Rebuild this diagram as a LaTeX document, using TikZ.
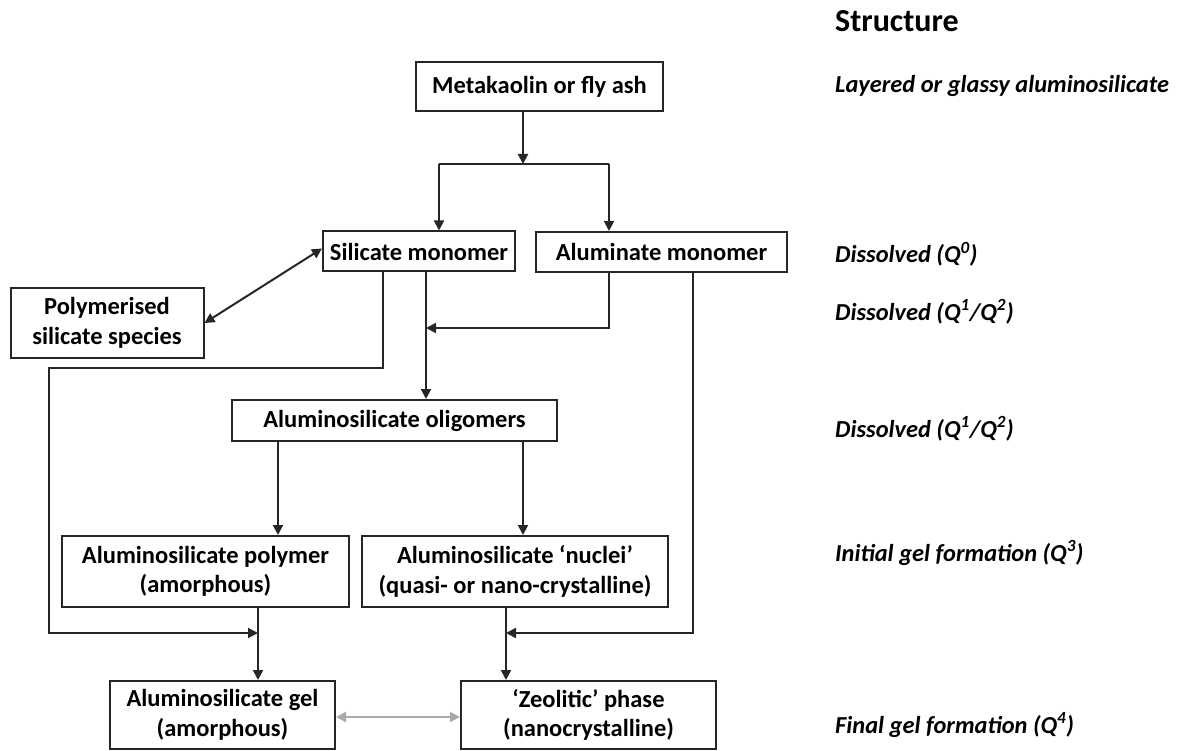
\documentclass[tikz,border=0pt]{standalone}
\usepackage{fontspec}
\setmainfont{Carlito}
\usetikzlibrary{arrows.meta}
\definecolor{ln}{HTML}{262626}
\definecolor{gl}{HTML}{AAAAAA}
\begin{document}
\begin{tikzpicture}[x=1pt,y=-1pt,
  box/.style={draw=ln,line width=2pt,rectangle,inner sep=0pt,align=center,
    font=\fontsize{24.5}{29.5}\selectfont\bfseries,text=black},
  arr/.style={draw=ln,line width=2pt,-{Triangle[length=10pt,width=10pt]}},
  ln/.style={draw=ln,line width=2pt},
  lab/.style={anchor=base west,inner sep=0pt,font=\fontsize{24.4}{28}\selectfont\bfseries\itshape,text=black}]
\useasboundingbox (0,0) rectangle (1183,751);
% boxes
\node[box,minimum width=247pt,minimum height=49pt] (meta) at (539.5,86.5) {Metakaolin or fly ash};
\node[box,minimum width=192pt,minimum height=40pt] (sil) at (419,251.5) {Silicate monomer};
\node[box,minimum width=251pt,minimum height=40pt] (alu) at (661.5,252) {Aluminate monomer};
\node[box,minimum width=193pt,minimum height=70pt] (poly) at (107,323) {Polymerised\\silicate species};
\node[box,minimum width=325pt,minimum height=41pt] (olig) at (394.5,420.5) {Aluminosilicate oligomers};
\node[box,minimum width=287pt,minimum height=71pt] (apoly) at (205.5,571.5) {Aluminosilicate polymer\\(amorphous)};
\node[box,minimum width=306pt,minimum height=71pt] (nuc) at (515,571.5) {Aluminosilicate ‘nuclei’\\(quasi- or nano-crystalline)};
\node[box,minimum width=225pt,minimum height=68pt] (gel) at (222.5,715) {Aluminosilicate gel\\(amorphous)};
\node[box,minimum width=255pt,minimum height=68pt] (zeo) at (588.5,715) {‘Zeolitic’ phase\\(nanocrystalline)};
% coordinates
\coordinate (j1) at (523,164);
\coordinate (bL) at (439,164);
\coordinate (bR) at (609,164);
\coordinate (m1) at (426,328);
\coordinate (c1) at (49,368);
\coordinate (m2) at (258,633);
\coordinate (m3) at (506,633);
% connectors
\draw[arr] (meta.south -| j1) -- (j1);
\draw[ln] (bL) -- (bR);
\draw[arr] (bL) -- (bL |- sil.north);
\draw[arr] (bR) -- (bR |- alu.north);
\draw[draw=ln,line width=2pt,{Triangle[length=10pt,width=10pt]}-{Triangle[length=10pt,width=10pt]}] (poly.east) -- ([yshift=3pt]sil.west);
\draw[arr] (sil.south -| m1) -- (olig.north -| m1);
\draw[arr] (alu.south -| bR) |- (m1);
\draw[arr] (sil.south -| 383,0) |- (c1) |- (m2);
\draw[arr] (olig.south -| 278,0) -- (apoly.north -| 278,0);
\draw[arr] (olig.south -| j1) -- (nuc.north -| j1);
\draw[arr] (apoly.south -| m2) -- (gel.north -| m2);
\draw[arr] (alu.south -| 693,0) |- (m3);
\draw[arr] (nuc.south -| m3) -- (zeo.north -| m3);
\draw[draw=gl,line width=2pt,{Triangle[length=10pt,width=10pt]}-{Triangle[length=10pt,width=10pt]}] ([yshift=-2pt]gel.east) -- ([yshift=-2pt]zeo.west);
% labels
\node[lab,font=\fontsize{32}{36}\selectfont\bfseries] (s0) at (835,32) {Structure};
\node[lab] (s1) at (835,93) {Layered or glassy aluminosilicate};
\node[lab] (s2) at (835,263) {Dissolved (Q\textsuperscript{0})};
\node[lab] (s3) at (835,320) {Dissolved (Q\textsuperscript{1}/Q\textsuperscript{2})};
\node[lab] (s4) at (835,437) {Dissolved (Q\textsuperscript{1}/Q\textsuperscript{2})};
\node[lab] (s5) at (835,561) {Initial gel formation (Q\textsuperscript{3})};
\node[lab] (s6) at (835,733) {Final gel formation (Q\textsuperscript{4})};
\end{tikzpicture}
\end{document}
